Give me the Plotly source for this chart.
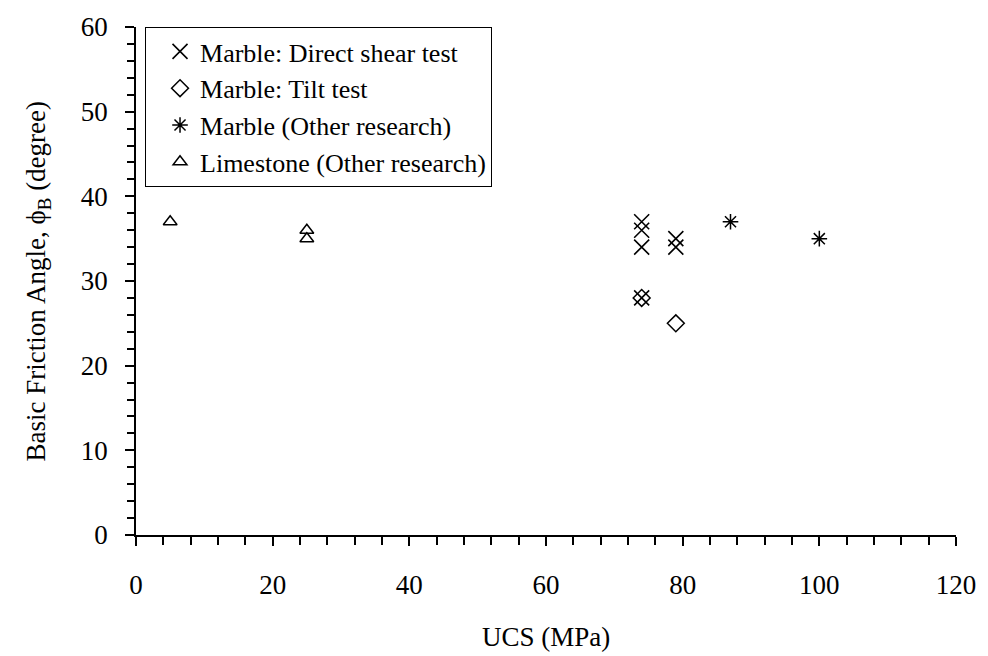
import plotly.graph_objects as go

# Uniaxial compressive strength (MPa) vs. basic friction angle (degree)
shear_ucs = [74, 74, 74, 74, 79, 79]
shear_phi = [37, 36, 34, 28, 35, 34]

tilt_ucs = [74, 79]
tilt_phi = [28, 25]

marble_other_ucs = [87, 100]
marble_other_phi = [37, 35]

limestone_ucs = [5, 25, 25]
limestone_phi = [37, 36, 35]

series_names = [
    "Marble: Direct shear test",
    "Marble: Tilt test",
    "Marble (Other research)",
    "Limestone (Other research)",
]

x_ticks = [0, 20, 40, 60, 80, 100, 120]
y_ticks = [0, 10, 20, 30, 40, 50, 60]

FONT = "Times New Roman, Liberation Serif, serif"
BLACK = "#000000"

fig = go.Figure()

fig.add_trace(go.Scatter(
    x=shear_ucs, y=shear_phi, mode="markers", name=series_names[0],
    marker=dict(symbol="x-thin-open", size=15, color=BLACK,
                line=dict(color=BLACK, width=1.6)),
))
fig.add_trace(go.Scatter(
    x=tilt_ucs, y=tilt_phi, mode="markers", name=series_names[1],
    marker=dict(symbol="diamond-open", size=13, color=BLACK,
                line=dict(color=BLACK, width=1.5)),
))
fig.add_trace(go.Scatter(
    x=marble_other_ucs, y=marble_other_phi, mode="markers", name=series_names[2],
    marker=dict(symbol="asterisk-open", size=13, color=BLACK,
                line=dict(color=BLACK, width=1.5)),
))
fig.add_trace(go.Scatter(
    x=limestone_ucs, y=limestone_phi, mode="markers", name=series_names[3],
    marker=dict(symbol="triangle-up-open", size=12, color=BLACK,
                line=dict(color=BLACK, width=1.5)),
))

axis_common = dict(
    showline=True, linecolor=BLACK, linewidth=1.5,
    showgrid=False, zeroline=False,
    ticks="outside", ticklen=9, tickwidth=1.5, tickcolor=BLACK,
    tickfont=dict(family=FONT, size=27, color=BLACK),
)

fig.update_xaxes(
    range=[0, 120], tickvals=x_ticks, ticklabelstandoff=16,
    minor=dict(dtick=4, ticks="outside", ticklen=8, tickwidth=1.5, tickcolor=BLACK),
    **axis_common,
)
fig.update_yaxes(
    range=[0, 60], tickvals=y_ticks, ticklabelstandoff=12,
    minor=dict(dtick=2, ticks="outside", ticklen=7, tickwidth=1.5, tickcolor=BLACK),
    **axis_common,
)

fig.add_annotation(
    text="UCS (MPa)", xref="paper", yref="paper", x=0.5, y=-0.2,
    showarrow=False, xanchor="center", yanchor="middle",
    font=dict(family=FONT, size=27, color=BLACK),
)
fig.add_annotation(
    text="Basic Friction Angle, \u03d5<sub>B</sub> (degree)",
    xref="paper", yref="paper", x=-0.119, y=0.5, textangle=-90,
    showarrow=False, xanchor="center", yanchor="middle",
    font=dict(family=FONT, size=27, color=BLACK),
)

fig.update_layout(
    width=988, height=656,
    margin=dict(l=136, r=28, t=23, b=121),
    paper_bgcolor="white", plot_bgcolor="white",
    showlegend=True,
    legend=dict(
        x=0.011, y=1.0, xanchor="left", yanchor="top",
        bgcolor="white", bordercolor=BLACK, borderwidth=1,
        font=dict(family=FONT, size=26, color=BLACK),
        itemwidth=30, tracegroupgap=0, indentation=14,
    ),
)

fig.write_html("out.html")
